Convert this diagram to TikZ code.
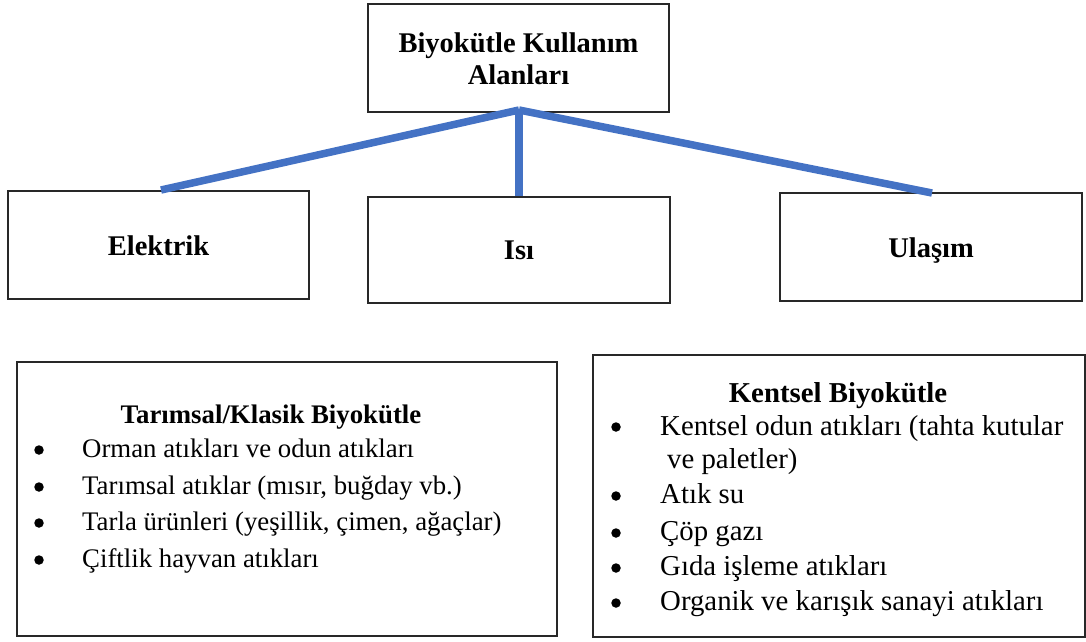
\documentclass[tikz,border=0pt]{standalone}
\usepackage{fontspec}
\setmainfont{Liberation Serif}
\definecolor{linkblue}{RGB}{68,114,196}
\definecolor{frame}{RGB}{40,40,40}
\tikzset{
  box/.style={draw=frame, line width=1.2pt, rectangle, inner sep=0pt, fill=white},
  headtext/.style={font=\fontsize{28.5}{32}\selectfont\bfseries, anchor=base, inner sep=0pt},
  grouptitle/.style={font=\fontsize{26.8}{32}\selectfont\bfseries, anchor=base, inner sep=0pt},
  item/.style={font=\fontsize{26.8}{32}\selectfont, anchor=base west, inner sep=0pt},
  bigtitle/.style={grouptitle, font=\fontsize{28.8}{32}\selectfont\bfseries},
  bigitem/.style={item, font=\fontsize{28.8}{32}\selectfont},
  bullet/.style={circle, fill=black, inner sep=0pt, minimum size=9.5pt}
  ,link/.style={draw=linkblue, line width=7.5pt, line cap=butt}
}
\begin{document}
\begin{tikzpicture}[x=1pt,y=-1pt]
\useasboundingbox (0,0) rectangle (1086,641);

% usage tree: frames
\node[box, minimum width=301pt, minimum height=108pt] (top) at (518.5,58) {};
\node[box, minimum width=301pt, minimum height=108pt] (elek) at (158.5,245) {};
\node[box, minimum width=302pt, minimum height=106pt] (isi) at (519,250) {};
\node[box, minimum width=302pt, minimum height=108pt] (ulas) at (931,247) {};

% usage tree: labels
\node[headtext] (topl1) at (518.5,52) {Biyokütle Kullanım};
\node[headtext] (topl2) at (518.5,84) {Alanları};
\node[headtext] (elekl) at (158.5,255) {Elektrik};
\node[headtext] (isil) at (519,259) {Isı};
\node[headtext] (ulasl) at (931,257) {Ulaşım};

% connectors
\coordinate (hub) at (519,110);
\coordinate (elekend) at (161,190);
\coordinate (ulasend) at (932,193);
\draw[link] (hub) -- (elekend);
\draw[link] (hub) -- (isi.north);
\draw[link] (hub) -- (ulasend);

% agricultural / classic biomass
\node[box, minimum width=540pt, minimum height=274pt] (agri) at (287,499) {};
\node[grouptitle] (agrit) at (271,423) {Tarımsal/Klasik Biyokütle};
\node[bullet] (ab1) at (39,450) {};
\node[item] (a1) at (82,457) {Orman atıkları ve odun atıkları};
\node[bullet] (ab2) at (39,487) {};
\node[item] (a2) at (82,494) {Tarımsal atıklar (mısır, buğday vb.)};
\node[bullet] (ab3) at (39,523) {};
\node[item] (a3) at (82,530) {Tarla ürünleri (yeşillik, çimen, ağaçlar)};
\node[bullet] (ab4) at (39,560) {};
\node[item] (a4) at (82,567) {Çiftlik hayvan atıkları};

% urban biomass
\node[box, minimum width=492pt, minimum height=282pt] (urban) at (839,496) {};
\node[bigtitle] (urbant) at (838,402) {Kentsel Biyokütle};
\node[bullet] (ub1) at (616,427) {};
\node[bigitem] (u1) at (660,435) {Kentsel odun atıkları (tahta kutular};
\node[bigitem] (u1b) at (667,468) {ve paletler)};
\node[bullet] (ub2) at (616,496) {};
\node[bigitem] (u2) at (660,503) {Atık su};
\node[bullet] (ub3) at (616,533) {};
\node[bigitem] (u3) at (660,540) {Çöp gazı};
\node[bullet] (ub4) at (616,568) {};
\node[bigitem] (u4) at (660,575) {Gıda işleme atıkları};
\node[bullet] (ub5) at (616,603) {};
\node[bigitem] (u5) at (660,610) {Organik ve karışık sanayi atıkları};
\end{tikzpicture}
\end{document}
